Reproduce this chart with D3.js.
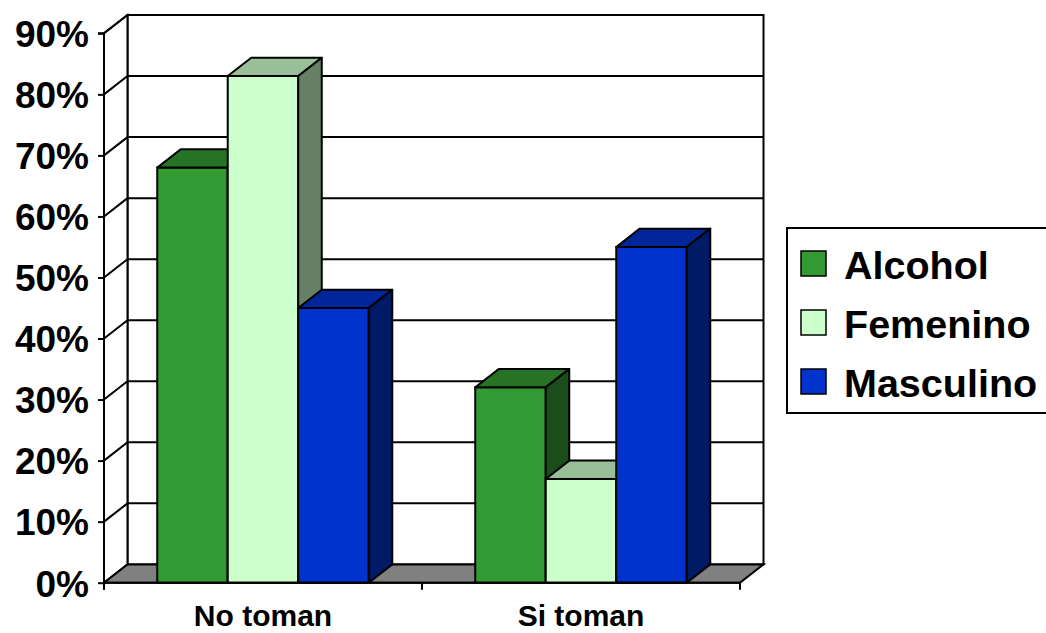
<!DOCTYPE html>
<html>
<head>
<meta charset="utf-8">
<script src="https://cdn.jsdelivr.net/npm/d3@7"></script>
<style>
  html, body { margin: 0; padding: 0; background: #fff; }
  svg { display: block; font-family: "Liberation Sans", Arial, sans-serif; font-weight: bold; }
</style>
</head>
<body>
<svg id="chart" width="1046" height="633"></svg>
<script>
// Chart data
const categories = ["No toman", "Si toman"];
const seriesNames = ["Alcohol", "Femenino", "Masculino"];
const alcoholValues = [68, 32];
const femeninoValues = [83, 17];
const masculinoValues = [45, 55];
const tickValues = [0, 10, 20, 30, 40, 50, 60, 70, 80, 90];

const seriesValues = [alcoholValues, femeninoValues, masculinoValues];
const frontColors = ["#339933", "#ccffcc", "#0033cc"];
const topColors   = ["#267326", "#99bf99", "#002699"];
const sideColors  = ["#1a4d1a", "#668066", "#001a66"];

const svg = d3.select("#chart");

// Front plane of the 3D plot area and its oblique depth offset
const plotLeft = 104, plotRight = 740, plotBottom = 582.7, plotTop = 33.3;
const dx = 23.5, dy = -18.3;

const y = d3.scaleLinear().domain([0, 90]).range([plotBottom, plotTop]);
const x0 = d3.scaleBand().domain(categories).range([plotLeft, plotRight]).padding(0);
const x1 = d3.scaleBand().domain(seriesNames).range([0, x0.bandwidth()])
  .paddingInner(0).paddingOuter(0.755);

const lineW = 2;
const pts = a => a.map(p => p.join(",")).join(" ");

// Back wall
svg.append("rect")
  .attr("x", plotLeft + dx).attr("y", plotTop + dy)
  .attr("width", plotRight - plotLeft).attr("height", plotBottom - plotTop)
  .attr("fill", "#fff").attr("stroke", "#000").attr("stroke-width", lineW);

// Back wall gridlines
svg.append("g").selectAll("line").data(tickValues.slice(1, -1)).join("line")
  .attr("x1", plotLeft + dx).attr("x2", plotRight + dx)
  .attr("y1", d => y(d) + dy).attr("y2", d => y(d) + dy)
  .attr("stroke", "#000").attr("stroke-width", lineW);

// Left side wall
svg.append("polygon")
  .attr("points", pts([[plotLeft, plotBottom], [plotLeft, plotTop], [plotLeft + dx, plotTop + dy], [plotLeft + dx, plotBottom + dy]]))
  .attr("fill", "#fff").attr("stroke", "#000").attr("stroke-width", lineW);

svg.append("g").selectAll("line").data(tickValues.slice(1)).join("line")
  .attr("x1", plotLeft).attr("x2", plotLeft + dx)
  .attr("y1", d => y(d)).attr("y2", d => y(d) + dy)
  .attr("stroke", "#000").attr("stroke-width", lineW);

// Floor
svg.append("polygon")
  .attr("points", pts([[plotLeft, plotBottom], [plotLeft + dx, plotBottom + dy], [plotRight + dx, plotBottom + dy], [plotRight, plotBottom]]))
  .attr("fill", "#808080").attr("stroke", "#000").attr("stroke-width", lineW);

// 3D columns, drawn left to right so nearer faces overlap correctly
const bars = [];
categories.forEach((c, ci) => {
  seriesNames.forEach((s, si) => {
    bars.push({ cat: c, series: s, si, value: seriesValues[si][ci] });
  });
});

const barG = svg.append("g").selectAll("g").data(bars).join("g");
barG.each(function (d) {
  const g = d3.select(this);
  const bx = x0(d.cat) + x1(d.series);
  const bw = x1.bandwidth();
  const by = y(d.value);
  // front face
  g.append("rect")
    .attr("x", bx).attr("y", by).attr("width", bw).attr("height", plotBottom - by)
    .attr("fill", frontColors[d.si]).attr("stroke", "#000").attr("stroke-width", lineW);
  // top face
  g.append("polygon")
    .attr("points", pts([[bx, by], [bx + dx, by + dy], [bx + bw + dx, by + dy], [bx + bw, by]]))
    .attr("fill", topColors[d.si]).attr("stroke", "#000").attr("stroke-width", lineW)
    .attr("stroke-linejoin", "round");
  // right side face
  g.append("polygon")
    .attr("points", pts([[bx + bw, by], [bx + bw + dx, by + dy], [bx + bw + dx, plotBottom + dy], [bx + bw, plotBottom]]))
    .attr("fill", sideColors[d.si]).attr("stroke", "#000").attr("stroke-width", lineW)
    .attr("stroke-linejoin", "round");
});

// Value axis
const yAxis = svg.append("g")
  .attr("transform", `translate(${plotLeft},0)`)
  .call(d3.axisLeft(y).tickValues(tickValues).tickFormat(d => d + "%").tickSize(6).tickPadding(9));
yAxis.select(".domain").attr("stroke", "#000").attr("stroke-width", lineW)
  .attr("d", `M-6,${plotTop}H0V${plotBottom + 7}`);
yAxis.selectAll(".tick line").attr("stroke", "#000").attr("stroke-width", lineW);
yAxis.selectAll(".tick text")
  .attr("fill", "#000").attr("font-size", 37).attr("font-weight", "bold")
  .attr("font-family", "Liberation Sans, Arial, sans-serif")
  .attr("dy", "0.36em");

// Category axis
svg.append("line")
  .attr("x1", plotLeft).attr("x2", plotRight).attr("y1", plotBottom).attr("y2", plotBottom)
  .attr("stroke", "#000").attr("stroke-width", lineW);
const edges = categories.map(c => x0(c)).concat([plotRight]);
svg.append("g").selectAll("line").data(edges).join("line")
  .attr("x1", d => d).attr("x2", d => d)
  .attr("y1", plotBottom).attr("y2", plotBottom + 7)
  .attr("stroke", "#000").attr("stroke-width", lineW);
svg.append("g").selectAll("text").data(categories).join("text")
  .attr("x", d => x0(d) + x0.bandwidth() / 2)
  .attr("y", 626)
  .attr("text-anchor", "middle")
  .attr("font-size", 30)
  .text(d => d);

// Legend
const legend = svg.append("g");
legend.append("rect")
  .attr("x", 787).attr("y", 228).attr("width", 300).attr("height", 185)
  .attr("fill", "#fff").attr("stroke", "#000").attr("stroke-width", lineW);
const items = legend.selectAll("g.item").data(seriesNames).join("g")
  .attr("class", "item")
  .attr("transform", (d, i) => `translate(801,${251 + i * 59})`);
items.append("rect")
  .attr("width", 25).attr("height", 25)
  .attr("fill", (d, i) => frontColors[i]).attr("stroke", "#000").attr("stroke-width", 1.5);
items.append("text")
  .attr("x", 43).attr("y", 28)
  .attr("font-size", 39.5)
  .text(d => d);
</script>
</body>
</html>
